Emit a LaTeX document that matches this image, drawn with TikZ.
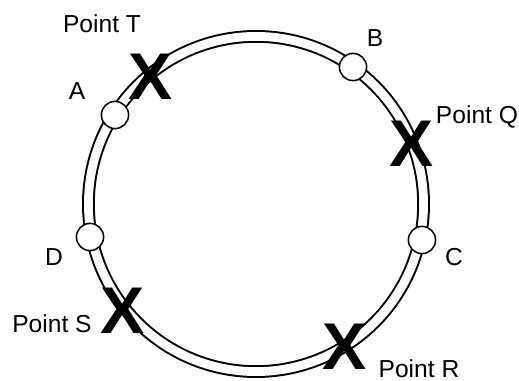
\documentclass[tikz,border=0pt]{standalone}
\usepackage{fontspec}
\setmainfont{Liberation Sans}
\usepackage{tikz}
\tikzset{
  ringline/.style={draw=black, line width=1.4pt, double=white,
                   double distance=0.22cm},
  bead/.style={circle, draw=black, line width=1.1pt, fill=white,
               minimum size=0.68cm, inner sep=0pt},
  lbl/.style={font=\fontsize{17.5}{20}\selectfont, inner sep=0pt},
  xmark/.style={font=\fontsize{47}{47}\selectfont\bfseries, inner sep=0pt},
}

\begin{document}
\begin{tikzpicture}
\useasboundingbox (0,0) rectangle (12.975,9.525);

% ------------------------- ring -----------------------------------------
\coordinate (ctr) at (6.40, 4.425);
\draw[ringline] (ctr) circle[radius=4.19];

% ------------------------- crosses --------------------------------------
\node[xmark] at (3.775, 7.60) (xT) {X};
\node[xmark] at (10.30, 5.925) (xQ) {X};
\node[xmark] at (3.075, 1.75) (xS) {X};
\node[xmark] at (8.625, 0.86) (xR) {X};

% ------------------------- beads ----------------------------------------
\node[bead] at (2.875, 6.65) (A) {};
\node[bead] at (8.825, 7.85) (B) {};
\node[bead] at (10.55, 3.525) (C) {};
\node[bead] at (2.25, 3.60) (D) {};

% ------------------------- labels ---------------------------------------
\node[lbl] at (1.925, 7.25) (lA) {A};
\node[lbl] at (9.375, 8.575) (lB) {B};
\node[lbl] at (11.35, 3.10) (lC) {C};
\node[lbl] at (1.35, 3.10) (lD) {D};
\node[lbl] at (2.55, 8.925) (lT) {Point T};
\node[lbl] at (11.925, 6.60) (lQ) {Point Q};
\node[lbl] at (1.30, 1.425) (lS) {Point S};
\node[lbl] at (10.475, 0.30) (lR) {Point R};
\end{tikzpicture}
\end{document}
